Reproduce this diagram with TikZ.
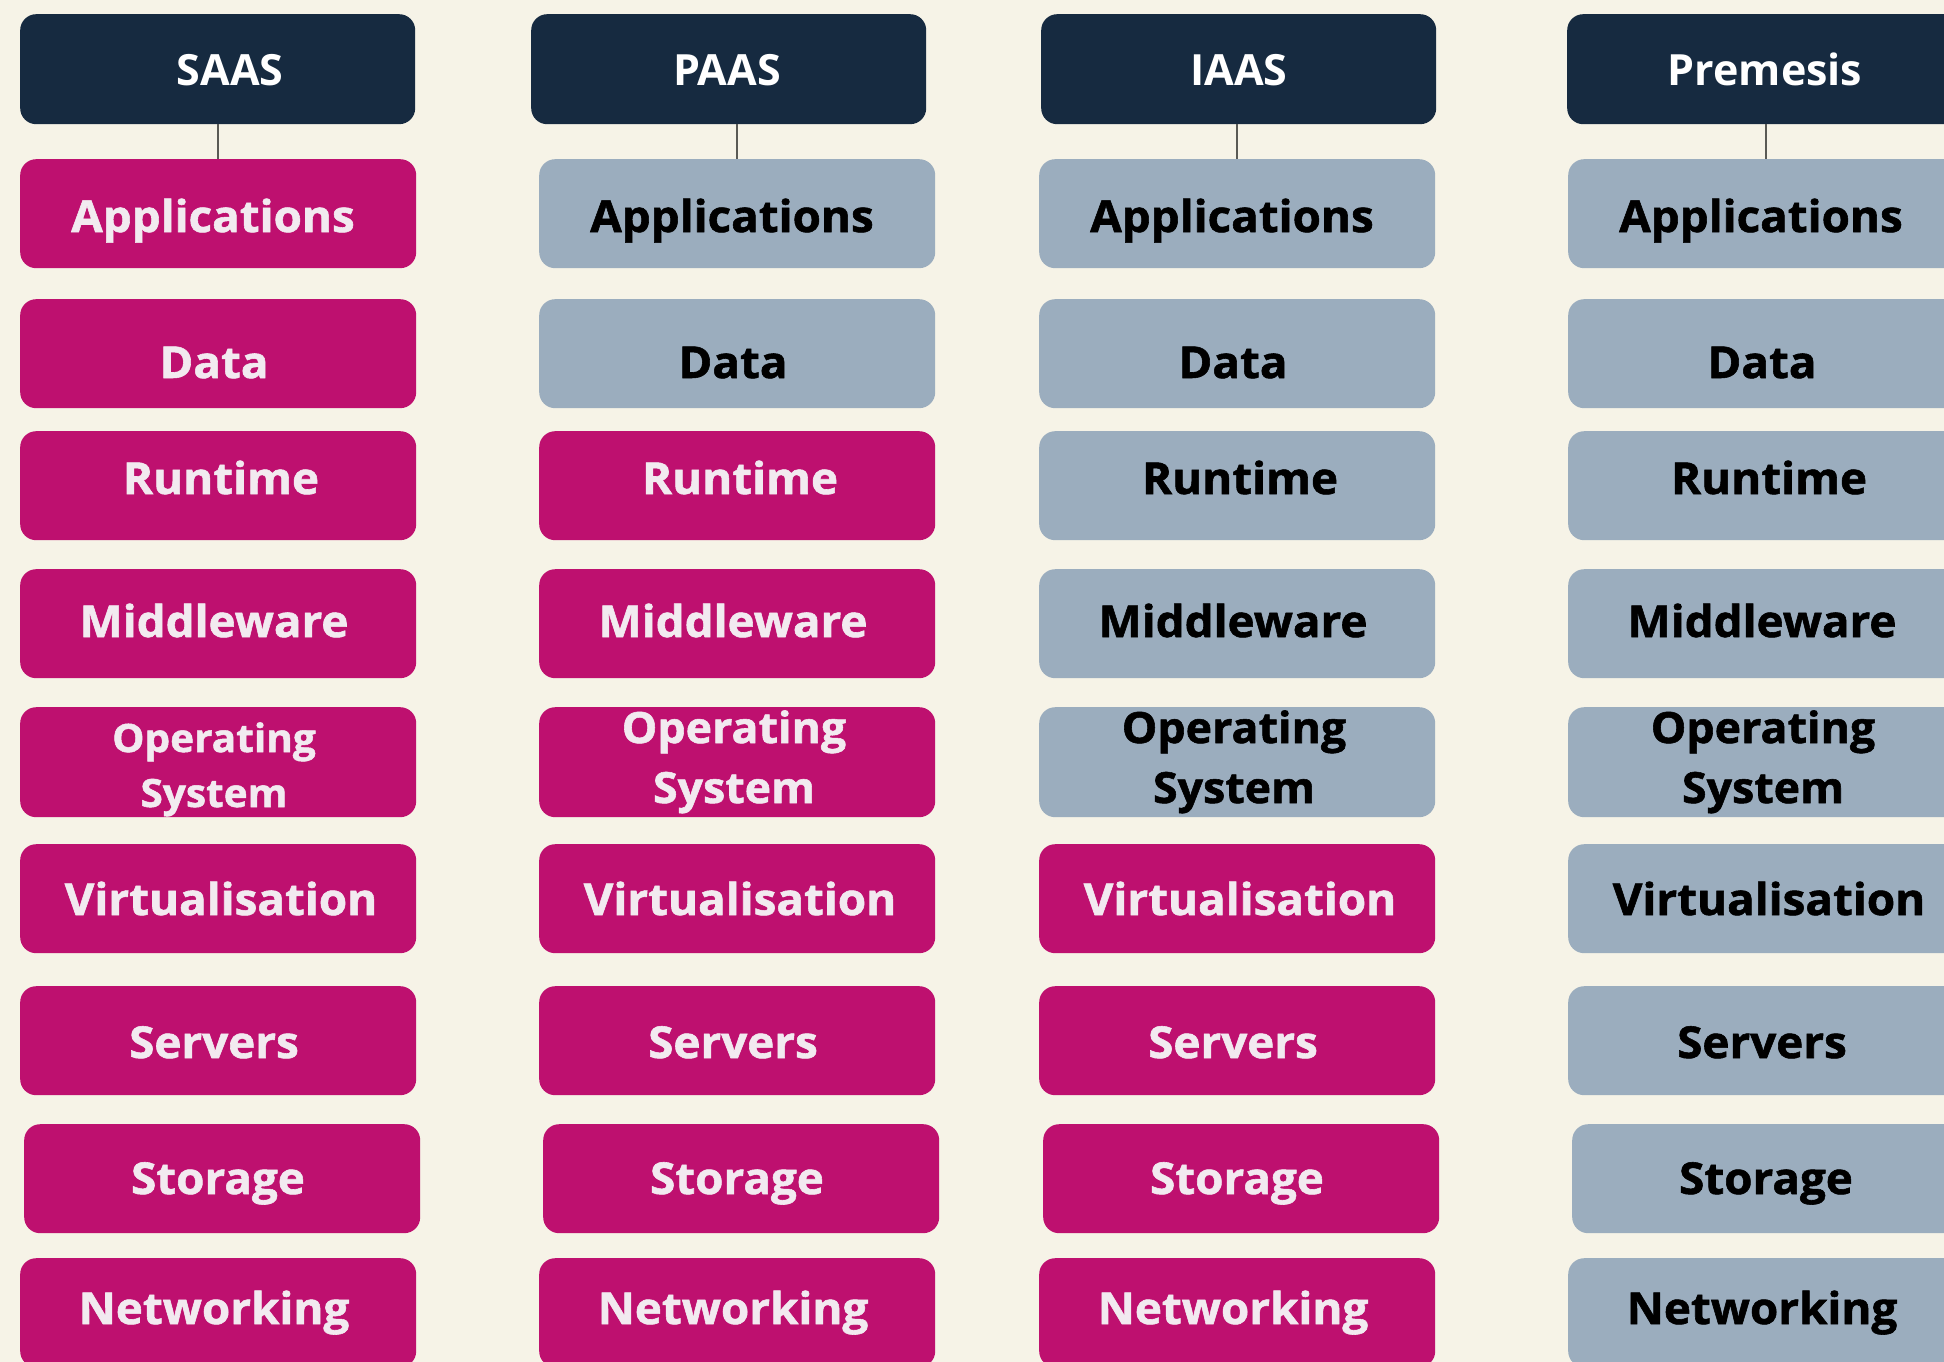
\documentclass[tikz,border=0pt]{standalone}
\usepackage{fontspec}
\setmainfont{Open Sans}
\newfontfamily\xbfam{Open Sans}[FakeStretch=1.04, FakeBold=1.3]
\newcommand\xb{\xbfam\bfseries}
\usetikzlibrary{calc}
\definecolor{magC}{HTML}{BE106F}
\definecolor{gryC}{HTML}{9BADBE}
\definecolor{navyC}{HTML}{162A40}
\definecolor{bgC}{HTML}{F6F3E7}
\definecolor{txtW}{HTML}{F2EAF0}
\definecolor{lineC}{HTML}{5A5A55}
\tikzset{
  box/.style={rounded corners=16pt, draw=none, minimum width=396pt, minimum height=109pt, inner sep=0pt, anchor=north west},
  mag/.style={fill=magC},
  gry/.style={fill=gryC},
  hdrbox/.style={box, fill=navyC, minimum width=395pt, minimum height=110pt},
  hdrlbl/.style={font=\bfseries\fontsize{43}{48}\selectfont, text=white, anchor=base, inner sep=0pt},
  lbl/.style={font=\xb\fontsize{44}{50}\selectfont, anchor=base, inner sep=0pt},
  oslbl/.style={font=\xb\fontsize{43}{48}\selectfont, anchor=base, inner sep=0pt},
  oslblsm/.style={font=\xb\fontsize{39}{44}\selectfont, anchor=base, inner sep=0pt},
  conn/.style={draw=lineC, line width=2pt}
}
\begin{document}
\begin{tikzpicture}[x=1pt,y=-1pt]
\useasboundingbox (0,0) rectangle (1944,1362);
\clip (0,0) rectangle (1944,1362);
\fill[bgC] (0,0) rectangle (1944,1362);
% headers
\foreach \c/\x/\t/\dx in {1/20/SAAS/12, 2/531/PAAS/-2, 3/1041/IAAS/0, 4/1567/Premesis/0} {
  \node[hdrbox] (h\c) at (\x,14) {};
  \node[hdrlbl] (ht\c) at (\x+198+\dx,86) {\t};
}
% layer boxes
\foreach \c/\L/\g in {1/20/0, 2/539/2, 3/1039/5, 4/1568/9} {
  \foreach \r/\T/\Y/\dx/\ox/\s in {1/159/232/-5/0/Applications, 2/299/378/-4/0/Data, 3/431/494/3/0/Runtime, 4/569/637/-4/0/Middleware, 6/844/915/3/0/Virtualisation, 7/986/1058/-4/0/Servers, 8/1124/1194/-4/4/Storage, 9/1258/1324/-4/0/Networking} {
    \ifnum\r>\g \def\sty{mag}\def\tc{txtW}\else\def\sty{gry}\def\tc{black}\fi
    \node[box,\sty] (b\c\r) at (\L+\ox,\T) {};
    \node[lbl,text=\tc] (t\c\r) at (\L+\ox+198+\dx,\Y) {\s};
  }
  % operating system row
  \ifnum5>\g \def\sty{mag}\def\tc{txtW}\else\def\sty{gry}\def\tc{black}\fi
  \node[box,\sty,minimum height=110pt] (b\c5) at (\L,707) {};
  \ifnum\c=1
    \node[oslblsm,text=\tc] (o\c) at (\L+194,752) {Operating};
    \node[oslblsm,text=\tc] (y\c) at (\L+194,807) {System};
  \else
    \node[oslbl,text=\tc] (o\c) at (\L+195,743) {Operating};
    \node[oslbl,text=\tc] (y\c) at (\L+195,803) {System};
  \fi
}
% connectors
\foreach \c in {1,2,3,4} {
  \draw[conn] (h\c.south -| b\c1.north) -- (b\c1.north);
}
\end{tikzpicture}
\end{document}
